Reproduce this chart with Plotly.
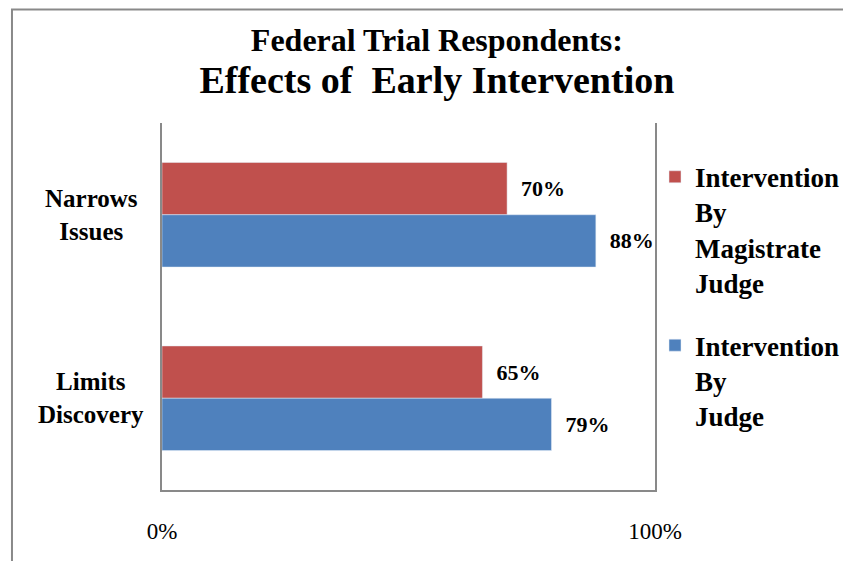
import plotly.graph_objects as go

# categories top -> bottom (y axis is reversed), values in percent
categories = ["Narrows<br>Issues", "Limits<br>Discovery"]
magistrate = [70, 65]
judge = [88, 79]
series_names = ["Intervention<br>By<br>Magistrate<br>Judge", "Intervention<br>By<br>Judge"]
x_ticks = [0, 100]
x_tick_text = ["0%", "100%"]

serif = "Liberation Serif, Times New Roman, serif"
red = "#C0504D"
blue = "#4F81BD"
grey = "#898989"

label_font = dict(family=serif, size=22, color="black", weight="bold")

fig = go.Figure()
fig.add_trace(go.Bar(
    y=categories, x=magistrate, orientation="h", name=series_names[0],
    marker_color=red, legendgroup="m",
    texttemplate="\u00a0\u00a0%{x}%", textposition="outside", constraintext="none",
    cliponaxis=False, textfont=label_font,
))
fig.add_trace(go.Bar(
    y=categories, x=judge, orientation="h", name=series_names[1],
    marker_color=blue, legendgroup="j",
    texttemplate="\u00a0\u00a0%{x}%", textposition="outside", constraintext="none",
    cliponaxis=False, textfont=label_font,
))

# category labels, centred like the original
for cat in categories:
    fig.add_annotation(x=-0.144, xref="paper", xanchor="center", y=cat, yref="y",
                       text=cat, showarrow=False, align="center",
                       font=dict(family=serif, size=25, color="black", weight="bold"))

# outer chart border (left and top visible)
fig.add_shape(type="rect", xref="paper", yref="paper",
              x0=-0.3043, x1=1.42, y0=-0.25, y1=1.3093,
              line=dict(color=grey, width=2), layer="below")

fig.update_layout(
    width=851, height=561,
    margin=dict(l=154, r=204, t=115, b=79),
    paper_bgcolor="white", plot_bgcolor="white",
    barmode="group", bargap=0.43, bargroupgap=0,
    title=dict(
        text="<b>Federal Trial Respondents:</b><br>"
             "<span style='font-size:38px'><b>Effects of\u00a0\u00a0Early Intervention</b></span>",
        x=0.504, xanchor="center", y=0.923, yanchor="top", yref="container",
        font=dict(family=serif, size=32, color="black"),
    ),
    legend=dict(
        x=1.0, xanchor="left", y=0.919, yanchor="top",
        traceorder="grouped", tracegroupgap=25, valign="top",
        font=dict(family=serif, size=27, color="black", weight="bold"),
        bgcolor="rgba(0,0,0,0)",
    ),
    xaxis=dict(
        range=[0, 100], tickvals=x_ticks, ticktext=x_tick_text, showgrid=False,
        zeroline=False, showline=True, linecolor=grey, linewidth=2,
        ticks="", ticklabelstandoff=19,
        tickfont=dict(family=serif, size=23, color="black"),
    ),
    yaxis=dict(
        autorange="reversed", showticklabels=False, showgrid=False, zeroline=False,
        showline=True, linecolor=grey, linewidth=2, mirror=True, ticks="",
    ),
    showlegend=True,
)

fig.write_html("out.html")
